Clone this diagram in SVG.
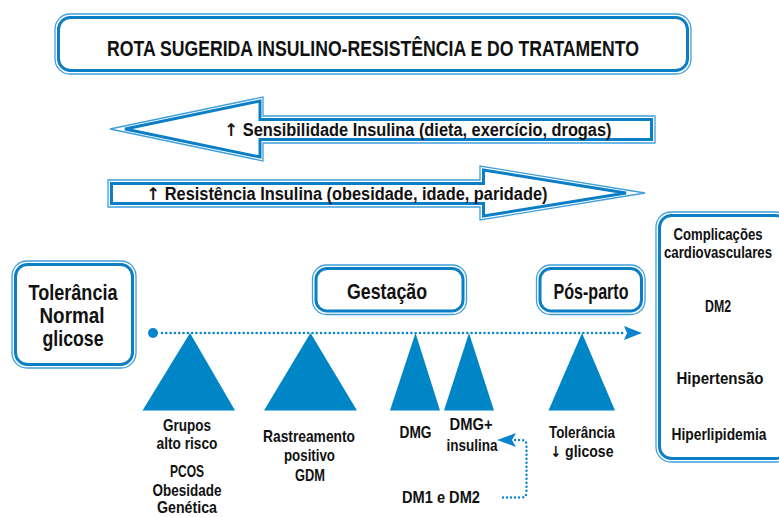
<svg xmlns="http://www.w3.org/2000/svg" width="779" height="517" viewBox="0 0 779 517">
<style>
.o{fill:none;stroke:#3f9fdc;stroke-width:1.3}
.i{fill:none;stroke:#0b7fc5;stroke-width:3}
.t{font-family:"Liberation Sans Narrow","Liberation Sans",Arial,sans-serif;font-weight:bold;fill:#111;text-anchor:middle}
.ar{font-family:"DejaVu Sans",sans-serif;font-weight:bold}
.tri{fill:#0086c7}
</style>
<rect width="779" height="517" fill="#fff"/>
<g id="title">
<rect class="o" x="55" y="14" width="636" height="60" rx="15"/>
<rect class="i" x="58.5" y="17.5" width="629" height="53" rx="12"/>
<text class="t" x="373" y="55.5" font-size="21.5" textLength="532" lengthAdjust="spacingAndGlyphs">ROTA SUGERIDA INSULINO-RESISTÊNCIA E DO TRATAMENTO</text>
</g>
<g id="arrow-sensibilidade">
<polygon class="o" points="110,129 263,97 263,116 655,116 655,143 263,143 263,161"/>
<polygon class="i" points="125,129 260,101 260,119.5 651.5,119.5 651.5,139.5 260,139.5 260,157"/>
<text class="t" x="418" y="136" font-size="17.5" textLength="387" lengthAdjust="spacingAndGlyphs"><tspan class="ar">↑</tspan> Sensibilidade Insulina (dieta, exercício, drogas)</text>
</g>
<g id="arrow-resistencia">
<polygon class="o" points="108,180 480,180 480,166 645,193 480,220 480,207 108,207"/>
<polygon class="i" points="111.5,183.5 483.5,183.5 483.5,170 626,193 483.5,216 483.5,203.5 111.5,203.5"/>
<text class="t" x="347" y="200" font-size="17.5" textLength="401" lengthAdjust="spacingAndGlyphs"><tspan class="ar">↑</tspan> Resistência Insulina (obesidade, idade, paridade)</text>
</g>
<g id="tolerancia-normal">
<rect class="o" x="12" y="261" width="124" height="107" rx="15"/>
<rect class="i" x="15.5" y="264.5" width="117" height="100" rx="12"/>
<text class="t" x="73" y="300" font-size="22" textLength="89" lengthAdjust="spacingAndGlyphs">Tolerância</text>
<text class="t" x="72" y="323" font-size="22" textLength="65" lengthAdjust="spacingAndGlyphs">Normal</text>
<text class="t" x="73" y="346" font-size="22" textLength="61" lengthAdjust="spacingAndGlyphs">glicose</text>
</g>
<g id="gestacao">
<rect class="o" x="312.5" y="265" width="154" height="49.5" rx="14"/>
<rect class="i" x="316" y="268.5" width="147" height="42.5" rx="11"/>
<text class="t" x="387" y="298.5" font-size="21.5" textLength="80" lengthAdjust="spacingAndGlyphs">Gestação</text>
</g>
<g id="pos-parto">
<rect class="o" x="536.5" y="265" width="108.5" height="49.5" rx="14"/>
<rect class="i" x="540" y="268.5" width="101.5" height="42.5" rx="11"/>
<text class="t" x="591" y="298.5" font-size="21.5" textLength="75" lengthAdjust="spacingAndGlyphs">Pós-parto</text>
</g>
<g id="complicacoes">
<rect class="o" x="656" y="212" width="135" height="250" rx="15"/>
<rect class="i" x="659.5" y="215.5" width="128" height="243" rx="12"/>
<text class="t" x="718" y="239.5" font-size="16" textLength="89" lengthAdjust="spacingAndGlyphs">Complicações</text>
<text class="t" x="718" y="258" font-size="16" textLength="108" lengthAdjust="spacingAndGlyphs">cardiovasculares</text>
<text class="t" x="718" y="312" font-size="16" textLength="26" lengthAdjust="spacingAndGlyphs">DM2</text>
<text class="t" x="720" y="384" font-size="16" textLength="87" lengthAdjust="spacingAndGlyphs">Hipertensão</text>
<text class="t" x="719" y="440" font-size="16" textLength="95" lengthAdjust="spacingAndGlyphs">Hiperlipidemia</text>
</g>
<g id="triangulos">
<polygon class="tri" points="190,333 235,410.5 142.5,410.5"/>
<polygon class="tri" points="310.5,333 357,410.5 264,410.5"/>
<polygon class="tri" points="415.5,333 440,410.5 390,410.5"/>
<polygon class="tri" points="469,333 494,410.5 444,410.5"/>
<polygon class="tri" points="582,333 615,410.5 548.5,410.5"/>
</g>
<g id="labels">
<text class="t" x="187" y="430.5" font-size="16.5" textLength="48" lengthAdjust="spacingAndGlyphs">Grupos</text>
<text class="t" x="187" y="449" font-size="16.5" textLength="61" lengthAdjust="spacingAndGlyphs">alto risco</text>
<text class="t" x="187" y="476.5" font-size="16.5" textLength="34" lengthAdjust="spacingAndGlyphs">PCOS</text>
<text class="t" x="187" y="496" font-size="16.5" textLength="69" lengthAdjust="spacingAndGlyphs">Obesidade</text>
<text class="t" x="187" y="513" font-size="16.5" textLength="60" lengthAdjust="spacingAndGlyphs">Genética</text>
<text class="t" x="309" y="442" font-size="16.5" textLength="92" lengthAdjust="spacingAndGlyphs">Rastreamento</text>
<text class="t" x="309.5" y="460.5" font-size="16.5" textLength="51" lengthAdjust="spacingAndGlyphs">positivo</text>
<text class="t" x="310" y="480.5" font-size="16.5" textLength="30" lengthAdjust="spacingAndGlyphs">GDM</text>
<text class="t" x="415.5" y="438" font-size="16.5" textLength="32" lengthAdjust="spacingAndGlyphs">DMG</text>
<text class="t" x="471" y="430" font-size="16.5" textLength="43" lengthAdjust="spacingAndGlyphs">DMG+</text>
<text class="t" x="472" y="450.5" font-size="16.5" textLength="51" lengthAdjust="spacingAndGlyphs">insulina</text>
<text class="t" x="582" y="437.5" font-size="16.5" textLength="66" lengthAdjust="spacingAndGlyphs">Tolerância</text>
<text class="t" x="582" y="457" font-size="16.5" textLength="63" lengthAdjust="spacingAndGlyphs"><tspan class="ar" font-size="15">↓</tspan> glicose</text>
<text class="t" x="441" y="503" font-size="16.5" textLength="78" lengthAdjust="spacingAndGlyphs">DM1 e DM2</text>
</g>
<g id="connectors" fill="none" stroke="#0a84cc" stroke-linecap="round">
<circle cx="153" cy="333" r="5" fill="#0a84cc" stroke="none"/>
<path d="M162,333 L626,333" stroke-width="2.6" stroke-dasharray="0 4.3"/>
<polygon points="624,326 642,333 624,340 627,333" fill="#0a84cc" stroke="none"/>
<path d="M503,497.5 L521,497.5 Q526.5,497.5 526.5,492 L526.5,445 Q526.5,440 521,440 L515,440" stroke-width="2.4" stroke-dasharray="0 4"/>
<polygon points="497,440 516,433 512,440 516,447" fill="#0a84cc" stroke="none"/>
</g>
</svg>
